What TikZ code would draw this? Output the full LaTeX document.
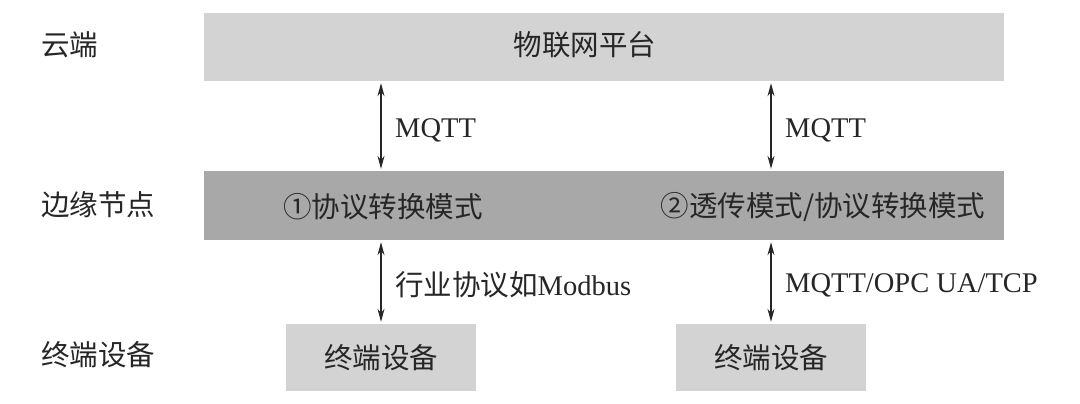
\documentclass[tikz,border=0pt]{standalone}
\usepackage{fontspec}
\setmainfont{Liberation Serif}
\newfontfamily\cjk{Noto Sans CJK SC}
\usetikzlibrary{arrows.meta}
\definecolor{lightbox}{HTML}{D3D3D3}
\definecolor{darkbox}{HTML}{A8A8A8}
\definecolor{ink}{HTML}{262626}
\tikzset{
  box/.style={fill=#1, draw=none, inner sep=0pt},
  txt/.style={inner sep=0pt, text=ink, font=\fontsize{28.5}{31}\selectfont},
  lbl/.style={txt, anchor=west},
  biarrow/.style={{Stealth[length=13pt,width=7pt]}-{Stealth[length=13pt,width=7pt]}, line width=1.2pt, draw=ink, shorten <=2pt, shorten >=2pt}
}
\begin{document}
\begin{tikzpicture}[x=1pt,y=-1pt]
\useasboundingbox[fill=white] (0,0) rectangle (1080,404);
% boxes
\node[box=lightbox, minimum width=800pt, minimum height=68pt] (cloud) at (604,47) {};
\node[box=darkbox, minimum width=800pt, minimum height=69pt] (edge) at (604,205.5) {};
\node[box=lightbox, minimum width=190pt, minimum height=67pt] (devA) at (381,357.5) {};
\node[box=lightbox, minimum width=190pt, minimum height=67pt] (devB) at (771,357.5) {};
% box texts
\node[txt] (cloudT) at (585,45) {\cjk 物联网平台};
\node[txt] (edgeA) at (383,207) {\cjk ①协议转换模式};
\node[txt] (edgeB) at (823,207) {\cjk ②透传模式/协议转换模式};
\node[txt] (devAT) at (381,358) {\cjk 终端设备};
\node[txt] (devBT) at (771,358) {\cjk 终端设备};
% layer labels
\node[lbl] (L1) at (41,45) {\cjk 云端};
\node[lbl] (L2) at (41,205) {\cjk 边缘节点};
\node[lbl] (L3) at (41,355) {\cjk 终端设备};
% arrows
\draw[biarrow] (cloud.south -| devA.north) -- (edge.north -| devA.north);
\draw[biarrow] (cloud.south -| devB.north) -- (edge.north -| devB.north);
\draw[biarrow] (edge.south -| devA.north) -- (devA.north);
\draw[biarrow] (edge.south -| devB.north) -- (devB.north);
% arrow labels
\node[lbl] (m1) at (395,130) {MQTT};
\node[lbl] (m2) at (785,130) {MQTT};
\node[lbl] (p1) at (395,285) {{\cjk 行业协议如}Modbus};
\node[lbl] (p2) at (785,285) {MQTT/OPC UA/TCP};
\end{tikzpicture}
\end{document}
